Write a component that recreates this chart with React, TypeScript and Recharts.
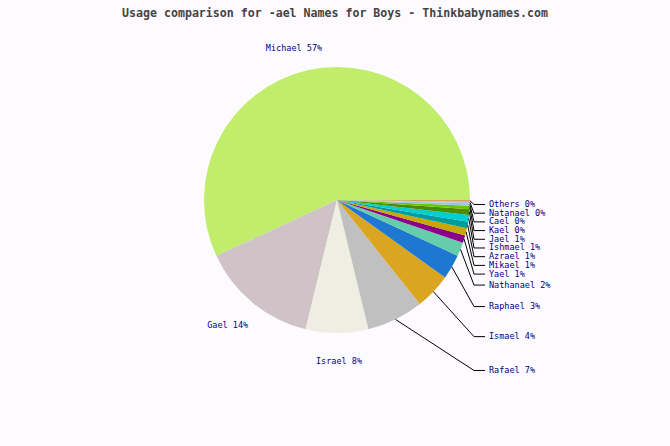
import React from "react";
import { PieChart, Pie, Cell } from "recharts";

const names = [
  "Michael", "Gael", "Israel", "Rafael", "Ismael", "Raphael", "Nathanael", "Yael",
  "Mikael", "Azrael", "Ishmael", "Jael", "Kael", "Cael", "Natanael", "Others",
];
const usage = [56.9, 14.3, 7.6, 6.9, 4.4, 3.0, 1.7, 0.9, 0.9, 0.8, 0.8, 0.7, 0.4, 0.3, 0.2, 0.2];
const colors = [
  "#c0ee6a", "#cfc3c7", "#eeeee2", "#c0c0c0", "#daa520", "#1e78d2", "#66cdaa", "#8b008b",
  "#c8a800", "#009c9c", "#00ced1", "#4a8c00", "#66c800", "#9cc4dc", "#b0c8d8", "#d4a060",
];

const data = names.map((name, i) => ({ name, value: usage[i] }));

const W = 670;
const H = 446;
const CX = 337;
const CY = 200;
const R = 133;
const RAD = Math.PI / 180;
const FIRST_SIDE = 3; // slices from here get a label in the right column
const LABEL_FONT = "'DejaVu Sans Mono', monospace";

// right-column label layout, derived from the slice angles
const total = usage.reduce((s, v) => s + v, 0);
let acc = 0;
const mids = usage.map((v) => {
  const m = ((acc + v / 2) / total) * 360;
  acc += v;
  return m;
});
const sideY: number[] = [];
let prev = -Infinity;
for (let i = usage.length - 1; i >= FIRST_SIDE; i--) {
  const s = Math.abs(Math.sin(mids[i] * RAD));
  const natural = CY + 3 + 162 * s + 22 * Math.min(1, s / 0.3);
  const y = Math.max(natural, prev + 8.7);
  sideY[i] = y;
  prev = y;
}

function renderLabel(props: any) {
  const { cx, cy, midAngle, outerRadius, index, name, percent } = props;
  const text = `${name} ${Math.round(percent * 100)}%`;
  const cos = Math.cos(midAngle * RAD);
  const sin = Math.sin(midAngle * RAD);
  if (index < FIRST_SIDE) {
    const lr = outerRadius + 25;
    const shift = Math.abs(cos) > 0.1 ? Math.sign(cos) * 11 : 0;
    return (
      <text
        x={cx + cos * lr + shift + 2}
        y={cy - sin * lr + 3}
        fill="#000080"
        fontSize={8.5}
        fontFamily={LABEL_FONT}
        textAnchor="middle"
        dominantBaseline="middle"
      >
        {text}
      </text>
    );
  }
  const sx = cx + cos * outerRadius;
  const sy = cy - sin * outerRadius;
  const y = sideY[index];
  return (
    <g>
      <polyline
        points={`${sx},${sy} 474,${y} 485,${y}`}
        fill="none"
        stroke="#000"
        strokeWidth={1}
      />
      <text
        x={489}
        y={y}
        fill="#000080"
        fontSize={8.5}
        fontFamily={LABEL_FONT}
        textAnchor="start"
        dominantBaseline="middle"
      >
        {text}
      </text>
    </g>
  );
}

export default function App() {
  return (
    <div
      style={{
        position: "fixed",
        left: 0,
        top: 0,
        width: W,
        height: H,
        background: "#fdfbff",
      }}
    >
      <div
        style={{
          position: "absolute",
          left: 0,
          top: 6,
          width: W,
          textAlign: "center",
          fontFamily: LABEL_FONT,
          fontWeight: "bold",
          fontSize: 11.6,
          color: "#444",
        }}
      >
        Usage comparison for -ael Names for Boys - Thinkbabynames.com
      </div>
      <PieChart
        width={W}
        height={H}
        margin={{ top: 0, right: 0, bottom: 0, left: 0 }}
        style={{ position: "absolute", left: 0, top: 0 }}
      >
        <Pie
          data={data}
          dataKey="value"
          nameKey="name"
          cx={CX}
          cy={CY}
          outerRadius={R}
          startAngle={0}
          endAngle={360}
          stroke="none"
          label={renderLabel}
          labelLine={false}
          isAnimationActive={false}
        >
          {data.map((d, i) => (
            <Cell key={d.name} fill={colors[i]} />
          ))}
        </Pie>
      </PieChart>
    </div>
  );
}
